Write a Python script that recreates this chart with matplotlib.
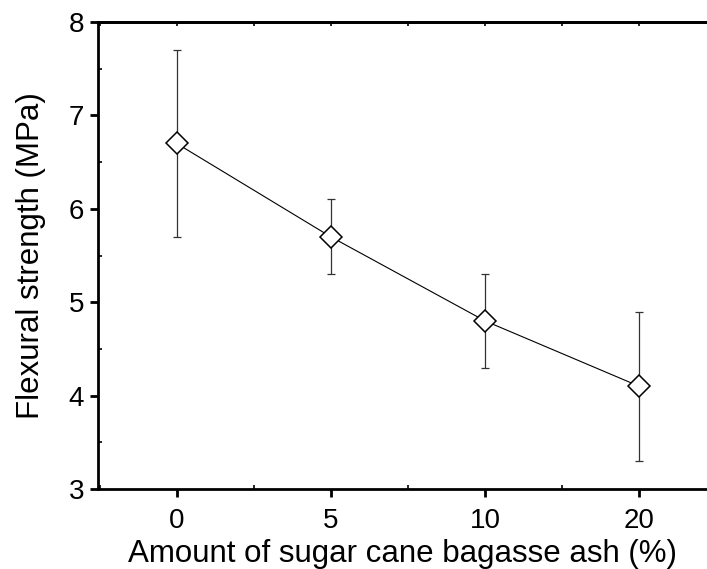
import matplotlib
matplotlib.use("Agg")
import matplotlib.pyplot as plt
from matplotlib.ticker import MultipleLocator, FixedLocator

plt.rcParams['font.family'] = ['Liberation Sans', 'DejaVu Sans']

# Daten
ash_labels = ['0', '5', '10', '20']
strength = [6.7, 5.7, 4.8, 4.1]
err_low = [5.7, 5.3, 4.3, 3.3]
err_high = [7.7, 6.1, 5.3, 4.9]

xpos = list(range(len(ash_labels)))
yerr = [[s - lo for s, lo in zip(strength, err_low)],
        [hi - s for s, hi in zip(strength, err_high)]]

fig = plt.figure(figsize=(7.07, 5.69), dpi=100)
ax = fig.add_axes([0.1386, 0.1406, 0.8614, 0.8207])

ax.errorbar(xpos, strength, yerr=yerr, fmt='none', ecolor='#333333',
            elinewidth=0.9, capsize=3, capthick=0.9, zorder=2)
ax.plot(xpos, strength, color='black', lw=0.8, marker='D', ms=11.5,
        mfc='white', mec='black', mew=1.1, zorder=3)

ax.set_xlim(-0.51, 3.44)
ax.set_ylim(3, 8)
ax.set_xticks(xpos)
ax.set_xticklabels(ash_labels)
ax.xaxis.set_minor_locator(FixedLocator([-0.5, 0.5, 1.5, 2.5, 3.5]))
ax.yaxis.set_major_locator(MultipleLocator(1))
ax.yaxis.set_minor_locator(MultipleLocator(0.5))

for side in ['left', 'bottom', 'top']:
    ax.spines[side].set_linewidth(2.0)
ax.spines['right'].set_visible(False)

ax.tick_params(axis='both', which='major', direction='out', length=6,
               width=2.0, labelsize=20, pad=4)
ax.tick_params(axis='both', which='minor', direction='in', length=3,
               width=1.2)
ax.tick_params(axis='x', which='major', pad=8)

# kleine Striche oben
top = ax.secondary_xaxis('top')
top.set_xticks(xpos)
top.xaxis.set_minor_locator(FixedLocator([-0.5, 0.5, 1.5, 2.5, 3.5]))
top.tick_params(which='both', direction='in', length=3, width=1.2,
                labeltop=False)
top.spines['top'].set_linewidth(2.0)

ax.set_xlabel('Amount of sugar cane bagasse ash (%)', fontsize=22.5, labelpad=3)
ax.set_ylabel('Flexural strength (MPa)', fontsize=22.5, labelpad=16)

fig.savefig('out.png', dpi=100)
